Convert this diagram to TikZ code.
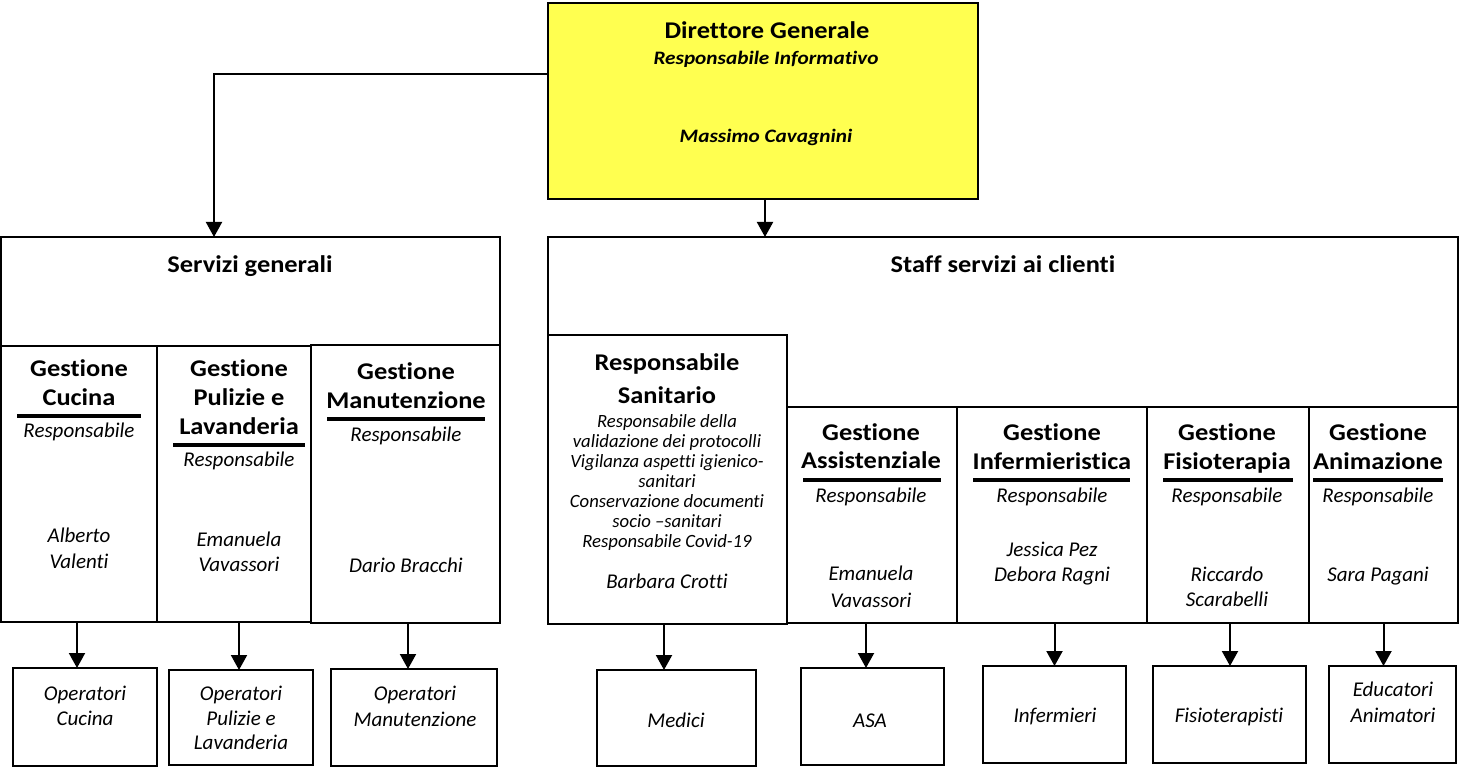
\documentclass[tikz,border=0pt]{standalone}
\usepackage{fontspec}
\setmainfont[Ligatures=NoCommon]{Carlito}
\newfontfamily\hdrfont[FakeStretch=1.1,Ligatures=NoCommon]{Carlito}
\newfontfamily\dgfont[FakeStretch=1.12,Ligatures=NoCommon]{Carlito}
\usetikzlibrary{arrows.meta}
\definecolor{dgyellow}{RGB}{255,255,80}
% \mkbox[opts]{name}{x1}{y1}{x2}{y2}
\newcommand\mkbox[6][]{\node[bx,#1,minimum width={(#5-#3)*1pt},minimum height={(#6-#4)*1pt}] (#2) at ({(#3+#5)/2},{(#4+#6)/2}) {};}
% \putline{name}{x}{y}{style}{text}
\newcommand\putline[5]{\node[anchor=base,inner sep=0,#4] (#1) at (#2,#3) {#5};}
\tikzset{
  bx/.style={draw=black,line width=2pt,fill=white,inner sep=0,outer sep=0},
  arr/.style={draw=black,line width=2pt,-{Triangle[width=16pt,length=15pt]}},
  ul/.style={draw=black,line width=3.3pt},
  hdr/.style={font=\hdrfont\fontsize{24}{29}\selectfont\bfseries},
  itx/.style={font=\fontsize{21}{25}\selectfont\itshape},
  smi/.style={font=\fontsize{18.7}{20}\selectfont\itshape},
  dgi/.style={font=\dgfont\fontsize{19}{23}\selectfont\bfseries\itshape},
}
\begin{document}
\begin{tikzpicture}[x=1pt,y=-1pt]
\useasboundingbox (0,0) rectangle (1459,767);
% ---------- boxes ----------
\mkbox[fill=dgyellow]{dg}{548}{3}{978}{199}
\mkbox{sg}{1}{237}{500}{346}
\mkbox{gc}{1}{346}{157}{622}
\mkbox{gp}{157}{346}{311}{622}
\mkbox{gm}{311}{345}{500}{623}
\mkbox{oc}{13}{668}{157}{766}
\mkbox{op}{169}{670}{313}{765}
\mkbox{om}{331}{669}{497}{766}
\mkbox{staff}{548}{237}{1458}{407}
\mkbox{rs}{548}{335}{787}{624}
\mkbox{ga}{787}{407}{957}{623}
\mkbox{gi}{957}{407}{1147}{623}
\mkbox{gf}{1147}{407}{1309}{623}
\mkbox{gan}{1309}{407}{1458}{623}
\mkbox{med}{597}{670}{756}{766}
\mkbox{asa}{801}{668}{944}{765}
\mkbox{inf}{983}{666}{1126}{763}
\mkbox{fis}{1153}{666}{1306}{763}
\mkbox{edu}{1329}{666}{1456}{763}
% ---------- connectors ----------
\coordinate (knee) at (214,74);
\draw[arr] (dg.west |- knee) -- (knee) -- (knee |- sg.north);
\draw[arr] ([xshift=2pt]dg.south) -- ([xshift=2pt]dg.south |- staff.north);
\draw[arr] ([xshift=-2pt]gc.south) -- ([xshift=-2pt]gc.south |- oc.north);
\draw[arr] ([xshift=-2pt]op.north |- gp.south) -- ([xshift=-2pt]op.north);
\draw[arr] ([xshift=2.5pt]gm.south) -- ([xshift=2.5pt]gm.south |- om.north);
\draw[arr] ([xshift=-3.5pt]rs.south) -- ([xshift=-3.5pt]rs.south |- med.north);
\draw[arr] ([xshift=-6pt]ga.south) -- ([xshift=-6pt]ga.south |- asa.north);
\draw[arr] (inf.north |- gi.south) -- (inf.north);
\draw[arr] ([xshift=2pt]gf.south) -- ([xshift=2pt]gf.south |- fis.north);
\draw[arr] (gan.south) -- (gan.south |- edu.north);
% ---------- underlines ----------
\draw[ul] (17,416) -- (141,416);
\draw[ul] (173,445) -- (305,445);
\draw[ul] (327,419) -- (485,419);
\draw[ul] (803,480) -- (941,480);
\draw[ul] (973,480) -- (1130,480);
\draw[ul] (1163,480) -- (1293,480);
\draw[ul] (1313,480) -- (1443,480);
% ---------- texts ----------
\putline{t01}{767}{39}{hdr}{Direttore Generale}
\putline{t02}{766}{65}{dgi}{Responsabile Informativo}
\putline{t03}{766}{143}{dgi}{Massimo Cavagnini}
\putline{t04}{250}{273}{hdr}{Servizi generali}
\putline{t05}{1003}{273}{hdr}{Staff servizi ai clienti}
% Cucina
\putline{t06}{79}{376.5}{hdr}{Gestione}
\putline{t07}{79}{405}{hdr}{Cucina}
\putline{t08}{79}{437}{itx}{Responsabile}
\putline{t09}{79}{542}{itx}{Alberto}
\putline{t10}{79}{568}{itx}{Valenti}
% Pulizie
\putline{t11}{239}{376}{hdr}{Gestione}
\putline{t12}{239}{405}{hdr}{Pulizie e}
\putline{t13}{239}{434}{hdr}{Lavanderia}
\putline{t14}{239}{466.5}{itx}{Responsabile}
\putline{t15}{239}{546}{itx}{Emanuela}
\putline{t16}{239}{571.5}{itx}{Vavassori}
% Manutenzione
\putline{t17}{406}{379}{hdr}{Gestione}
\putline{t18}{406}{408}{hdr}{Manutenzione}
\putline{t19}{406}{441}{itx}{Responsabile}
\putline{t20}{406}{572}{itx}{Dario Bracchi}
% Operatori
\putline{t21}{85}{700}{itx}{Operatori}
\putline{t22}{85}{725}{itx}{Cucina}
\putline{t23}{241}{700}{itx}{Operatori}
\putline{t24}{241}{725}{itx}{Pulizie e}
\putline{t25}{241}{749}{itx}{Lavanderia}
\putline{t26}{415}{700}{itx}{Operatori}
\putline{t27}{415}{726}{itx}{Manutenzione}
% Responsabile Sanitario
\putline{t28}{667}{370}{hdr}{Responsabile}
\putline{t29}{667}{403}{hdr}{Sanitario}
\putline{t30}{667}{427}{smi}{Responsabile della}
\putline{t31}{667}{447}{smi}{validazione dei protocolli}
\putline{t32}{667}{467}{smi}{Vigilanza aspetti igienico-}
\putline{t33}{667}{487}{smi}{sanitari}
\putline{t34}{667}{507}{smi}{Conservazione documenti}
\putline{t35}{667}{527}{smi}{socio –sanitari}
\putline{t36}{667}{547}{smi}{Responsabile Covid-19}
\putline{t37}{667}{588}{itx}{Barbara Crotti}
% Assistenziale
\putline{t38}{871}{440}{hdr}{Gestione}
\putline{t39}{871}{468}{hdr}{Assistenziale}
\putline{t40}{871}{502}{itx}{Responsabile}
\putline{t41}{871}{580}{itx}{Emanuela}
\putline{t42}{871}{607}{itx}{Vavassori}
% Infermieristica
\putline{t43}{1052}{440}{hdr}{Gestione}
\putline{t44}{1052}{469}{hdr}{Infermieristica}
\putline{t45}{1052}{502}{itx}{Responsabile}
\putline{t46}{1052}{556}{itx}{Jessica Pez}
\putline{t47}{1052}{581}{itx}{Debora Ragni}
% Fisioterapia
\putline{t48}{1227}{440}{hdr}{Gestione}
\putline{t49}{1227}{469}{hdr}{Fisioterapia}
\putline{t50}{1227}{502}{itx}{Responsabile}
\putline{t51}{1227}{581}{itx}{Riccardo}
\putline{t52}{1227}{606}{itx}{Scarabelli}
% Animazione
\putline{t53}{1378}{440}{hdr}{Gestione}
\putline{t54}{1378}{469}{hdr}{Animazione}
\putline{t55}{1378}{502}{itx}{Responsabile}
\putline{t56}{1378}{581}{itx}{Sara Pagani}
% bottom right
\putline{t57}{676}{727}{itx}{Medici}
\putline{t58}{870}{727}{itx}{ASA}
\putline{t59}{1055}{722}{itx}{Infermieri}
\putline{t60}{1229}{722}{itx}{Fisioterapisti}
\putline{t61}{1393}{696}{itx}{Educatori}
\putline{t62}{1393}{722}{itx}{Animatori}
\end{tikzpicture}
\end{document}
